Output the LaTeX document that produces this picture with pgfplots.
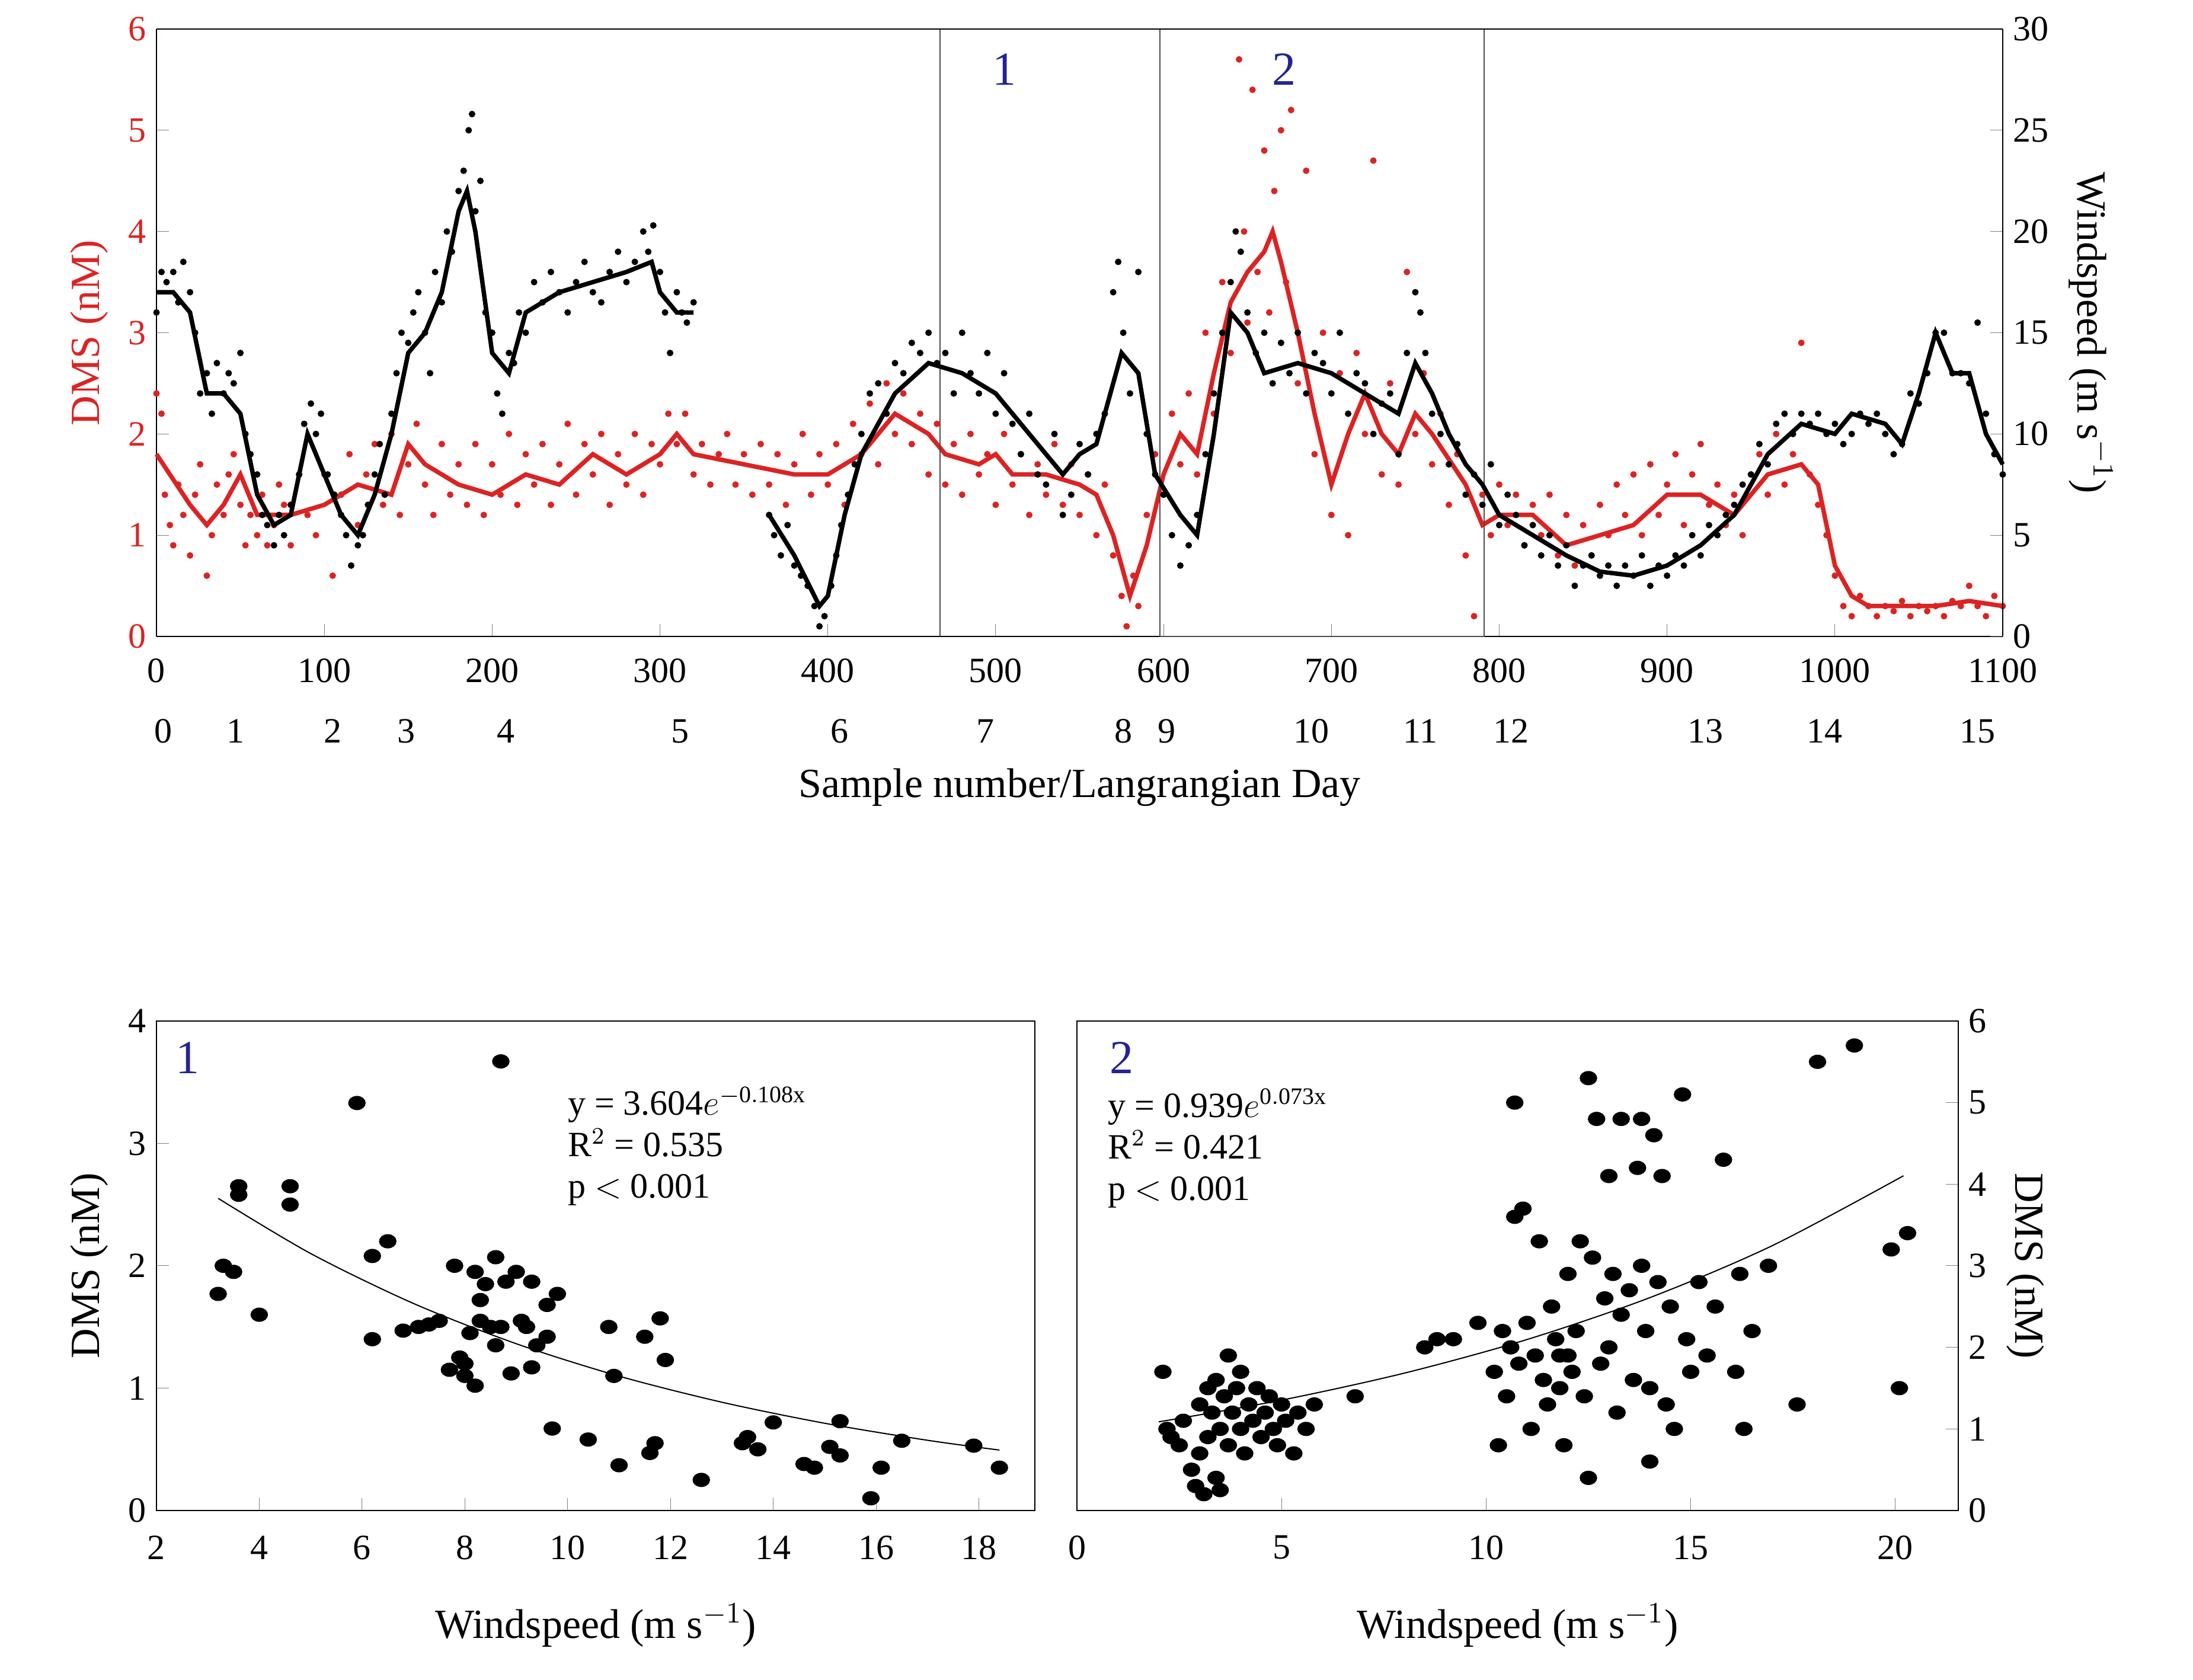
\documentclass[border=0pt]{standalone}
\usepackage{pgfplots}
\pgfplotsset{compat=1.18}
\usepackage{fontspec}
\setmainfont{Liberation Serif}
\definecolor{dmsred}{RGB}{220,35,35}
\definecolor{navy}{RGB}{35,35,150}
\newcommand{\dayl}[2]{\node[font=\fontsize{12}{12}\selectfont] at (axis cs:#1,0) [yshift=-32pt] {#2};}
\pgfplotsset{every axis/.append style={scale only axis, clip=false,
  tick label style={font=\fontsize{12}{12}\selectfont},
  label style={font=\fontsize{14}{14}\selectfont},
  /pgf/number format/assume math mode=true, /pgf/number format/1000 sep={}, tick align=inside}}
\begin{document}
\begin{tikzpicture}
\useasboundingbox (0,0) rectangle (740pt,567pt);
% ---------- TOP left axis (DMS)
\begin{axis}[at={(52.8pt,352.2pt)}, anchor=south west, width=623pt, height=205pt,
  xmin=0, xmax=1100, ymin=0, ymax=6, xtick={0,100,...,1100}, ytick={0,1,...,6},
  axis y line*=left, axis x line*=bottom, yticklabel style={color=dmsred},
  xticklabel style={yshift=-4pt},
  ylabel={DMS (nM)}, ylabel style={color=dmsred}, axis line style={black}]
\addplot[only marks, mark=*, mark size=0.9pt, dmsred] coordinates {
(0,2.4)(3,2.2)(5,1.4)(8,1.1)(10,0.9)(13,1.5)(16,1.2)(20,0.8)(23,1.4)(26,1.7)(30,0.6)(33,1.0)(36,1.5)(40,1.2)(43,1.6)(46,1.8)(50,1.3)(53,0.9)(56,1.2)(60,1.0)(63,1.4)(66,0.9)(70,1.1)(73,1.5)(76,1.3)(80,0.9)(85,1.6)(90,1.2)(95,1.0)(100,1.6)(105,0.6)(110,1.4)(115,1.8)(120,1.1)(125,1.6)(130,1.9)(135,1.3)(140,2.0)(145,1.2)(150,1.7)(155,2.1)(160,1.5)(165,1.2)(170,1.9)(175,1.4)(180,1.7)(185,1.3)(190,1.9)(195,1.2)(200,1.7)(205,1.4)(210,2.0)(215,1.3)(220,1.8)(225,1.5)(230,1.9)(235,1.3)(240,1.7)(245,2.1)(250,1.4)(255,1.9)(260,1.6)(265,2.0)(270,1.3)(275,1.8)(280,1.5)(285,2.0)(290,1.4)(295,1.9)(300,1.7)(305,2.2)(310,1.9)(315,2.2)(320,1.6)(325,1.9)(330,1.5)(335,1.8)(340,2.0)(345,1.5)(350,1.8)(355,1.4)(360,1.9)(365,1.5)(370,1.8)(375,1.3)(380,1.7)(385,2.0)(390,1.4)(395,1.8)(400,1.5)(405,1.9)(410,1.3)(415,2.1)(420,1.8)(425,2.3)(430,1.7)(435,2.5)(440,2.0)(445,2.4)(450,1.9)(455,2.2)(460,1.6)(465,2.1)(470,1.5)(475,1.9)(480,1.4)(485,2.0)(490,1.6)(495,1.8)(500,1.3)(505,2.0)(510,1.5)(515,1.8)(520,1.2)(525,1.7)(530,1.4)(535,1.9)(540,1.3)(545,1.7)(550,1.2)(555,1.6)(560,1.0)(565,1.5)(570,0.8)(575,0.4)(578,0.1)(582,0.6)(585,0.3)(590,1.2)(595,1.8)(600,1.4)(605,2.2)(610,1.7)(615,2.4)(620,1.6)(625,3.0)(630,2.2)(635,3.5)(640,2.8)(645,5.7)(648,4.0)(650,3.1)(653,5.4)(656,3.6)(660,4.8)(663,3.2)(666,4.4)(670,5.0)(673,3.5)(676,5.2)(680,2.5)(685,4.6)(690,1.8)(695,3.0)(700,1.2)(705,2.6)(710,1.0)(715,2.8)(720,2.0)(725,4.7)(730,1.6)(735,2.5)(740,1.5)(745,3.6)(750,2.0)(755,2.6)(760,1.7)(765,2.2)(770,1.3)(775,1.8)(780,0.8)(785,0.2)(790,1.4)(795,1.0)(800,1.5)(805,1.1)(810,1.4)(815,0.9)(820,1.3)(825,1.0)(830,1.4)(835,0.8)(840,1.2)(845,0.7)(850,1.1)(855,0.8)(860,1.3)(865,1.0)(870,1.5)(875,1.2)(880,1.6)(885,1.0)(890,1.7)(895,1.2)(900,1.5)(905,1.8)(910,1.1)(915,1.6)(920,1.9)(925,1.3)(930,1.5)(935,1.1)(940,1.4)(945,1.0)(950,1.6)(955,1.8)(960,1.4)(965,2.0)(970,1.5)(975,1.8)(980,2.9)(985,1.6)(990,1.3)(995,1.0)(1000,0.6)(1005,0.3)(1010,0.2)(1015,0.4)(1020,0.3)(1025,0.2)(1030,0.3)(1035,0.25)(1040,0.35)(1045,0.2)(1050,0.3)(1055,0.25)(1060,0.3)(1065,0.2)(1070,0.35)(1075,0.3)(1080,0.5)(1085,0.3)(1090,0.2)(1095,0.4)(1100,0.3)};
\addplot[dmsred, line width=1.5pt, no marks] coordinates {
(0,1.8)(20,1.3)(30,1.1)(40,1.3)(50,1.6)(60,1.2)(80,1.2)(100,1.3)(120,1.5)(140,1.4)(150,1.9)(160,1.7)(180,1.5)(200,1.4)(220,1.6)(240,1.5)(260,1.8)(280,1.6)(300,1.8)(310,2.0)(320,1.8)(350,1.7)(380,1.6)(400,1.6)(420,1.8)(440,2.2)(460,2.0)(470,1.8)(490,1.7)(500,1.8)(510,1.6)(530,1.6)(550,1.5)(560,1.4)(570,1.0)(580,0.4)(590,0.9)(600,1.6)(610,2.0)(620,1.8)(630,2.6)(640,3.3)(650,3.6)(660,3.8)(665,4.0)(670,3.7)(680,3.0)(690,2.2)(700,1.5)(710,2.0)(720,2.4)(730,2.0)(740,1.8)(750,2.2)(760,2.0)(780,1.5)(790,1.1)(800,1.2)(820,1.2)(840,0.9)(860,1.0)(880,1.1)(900,1.4)(920,1.4)(940,1.2)(960,1.6)(980,1.7)(990,1.5)(1000,0.7)(1010,0.4)(1020,0.3)(1040,0.3)(1060,0.3)(1080,0.35)(1100,0.3)};
\draw[black!70] (axis cs:467,0) -- (axis cs:467,6);
\draw[black!70] (axis cs:598,0) rectangle (axis cs:791,6);
\node[navy, font=\fontsize{16}{16}\selectfont] at (axis cs:505,5.6) {1};
\node[navy, font=\fontsize{16}{16}\selectfont] at (axis cs:672,5.6) {2};
\dayl{4}{0}\dayl{47}{1}\dayl{105}{2}\dayl{149}{3}\dayl{208}{4}\dayl{312}{5}\dayl{407}{6}\dayl{494}{7}
\dayl{576}{8}\dayl{602}{9}\dayl{688}{10}\dayl{753}{11}\dayl{807}{12}\dayl{923}{13}\dayl{994}{14}\dayl{1085}{15}
\node[font=\fontsize{14}{14}\selectfont] at (rel axis cs:0.5,0) [yshift=-51pt] {Sample number/Langrangian Day};
\end{axis}
% ---------- TOP right axis (windspeed)
\begin{axis}[at={(52.8pt,352.2pt)}, anchor=south west, width=623pt, height=205pt,
  xmin=0, xmax=1100, ymin=0, ymax=30, ytick={0,5,...,30},
  axis y line*=right, axis x line=none, ylabel={Windspeed (m s$^{-1}$)},
  ylabel style={rotate=180}, unbounded coords=jump]
\draw (rel axis cs:0,1) -- (rel axis cs:1,1);
\addplot[only marks, mark=*, mark size=0.9pt, black] coordinates {
(0,16)(3,18)(6,17.5)(10,18)(13,16.5)(16,18.5)(20,17)(23,15)(26,12)(30,13)(33,11)(36,13.5)(40,12)(43,13)(46,12.5)(50,14)(53,10)(56,9)(60,8)(63,6)(66,5.5)(70,4.5)(73,6)(76,5)(80,6.5)(85,8)(88,10.5)(92,11.5)(95,10)(98,11)(102,8)(106,7)(110,6)(113,5)(116,3.5)(120,4.5)(123,5)(126,6.5)(130,8)(133,9.5)(136,7)(140,11)(143,13)(146,15)(150,14.5)(153,16)(156,17)(160,15)(163,13)(166,18)(170,16.5)(173,20)(176,19)(180,22)(183,23)(186,25)(188,25.8)(190,21)(193,22.5)(196,16)(200,15)(203,12)(206,11)(210,14)(213,13.5)(216,16)(220,15)(225,17.5)(230,16.5)(235,18)(240,17)(245,16)(250,17.5)(255,18.5)(260,17)(265,16.5)(270,18)(275,19)(280,17.5)(285,18.5)(290,20)(293,19)(296,20.3)(300,18)(303,16)(306,14)(310,17)(313,16)(316,15.5)(320,16.5)(365,6)(368,5)(372,4)(376,5.5)(380,3.5)(384,3)(388,2.5)(392,1.5)(395,0.5)(398,1)(402,2.5)(405,4)(408,5.5)(412,7)(416,8.5)(420,10)(425,12)(430,12.5)(435,11)(440,13.5)(445,13)(450,14.5)(455,14)(460,15)(465,13.5)(470,14)(475,12)(480,15)(485,13)(490,12)(495,14)(500,11)(505,13)(510,10.5)(515,9)(520,11)(525,8)(530,7.5)(535,10)(540,6)(545,7)(550,9.5)(555,8)(560,10)(565,11)(570,17)(573,18.5)(576,15)(580,12)(585,18)(590,10)(595,8)(600,7)(605,5)(610,3.5)(615,4.5)(620,6)(625,9)(630,12)(635,15)(640,17.5)(643,20)(646,19)(650,16)(655,14)(660,15)(665,12.5)(670,14.5)(675,13)(680,15)(685,12)(690,14)(695,13.5)(700,12)(705,15)(710,11)(715,13)(720,12.5)(725,10)(730,11.5)(735,12)(740,9)(745,14)(750,17)(753,16)(756,14)(760,11)(765,10)(770,8.5)(775,9.5)(780,7)(785,8)(790,6.5)(795,8.5)(800,5.5)(805,7)(810,6)(815,4.5)(820,5.5)(825,4)(830,5)(835,3.5)(840,4.5)(845,2.5)(850,3.5)(855,4)(860,3)(865,3.5)(870,2.5)(875,3.5)(880,3)(885,4)(890,2.5)(895,3.5)(900,3)(905,4)(910,3.5)(915,5)(920,4)(925,5.5)(930,5)(935,6)(940,6.5)(945,7.5)(950,8)(955,9.5)(960,8.5)(965,10.5)(970,11)(975,10)(980,11)(985,10.5)(990,11)(995,10)(1000,10.5)(1005,9.5)(1010,10)(1015,11)(1020,10.5)(1025,11)(1030,10)(1035,9)(1040,9.5)(1045,12)(1050,11.5)(1055,13)(1060,15)(1065,15)(1070,13)(1075,13)(1080,12.5)(1085,15.5)(1090,11)(1095,9)(1100,8)};
\addplot[black, line width=1.5pt, no marks] coordinates {
(0,17)(10,17)(20,16)(30,12)(40,12)(50,11)(60,7)(70,5.5)(80,6)(90,10)(100,8)(110,6)(120,5)(130,7)(140,10)(150,14)(160,15)(170,17)(180,21)(185,22)(190,20)(200,14)(210,13)(220,16)(240,17)(260,17.5)(280,18)(295,18.5)(300,17)(310,16)(320,16)(342,nan)(365,6)(380,4)(395,1.5)(400,2)(410,6)(420,9)(440,12)(460,13.5)(480,13)(500,12)(520,10)(540,8)(550,9)(560,9.5)(575,14)(585,13)(595,8)(610,6)(620,5)(630,10)(640,16)(650,15)(660,13)(680,13.5)(700,13)(720,12)(740,11)(750,13.5)(760,12)(770,10)(780,8.5)(790,7.5)(800,6)(820,5)(840,4)(860,3.2)(880,3)(900,3.5)(920,4.5)(940,6)(960,9)(980,10.5)(1000,10)(1010,11)(1030,10.5)(1040,9.5)(1050,12)(1060,15)(1070,13)(1080,13)(1090,10)(1100,8.5)};
\end{axis}
% ---------- BOTTOM left
\begin{axis}[at={(52.8pt,57.2pt)}, anchor=south west, width=296.4pt, height=165.2pt,
  xmin=2, xmax=19.09, ymin=0, ymax=4, xtick={2,4,...,18}, ytick={0,1,...,4},
  xtick pos=bottom, ytick pos=left, ylabel={DMS (nM)}, xlabel={Windspeed (m s$^{-1}$)},
  xticklabel style={yshift=-5pt}, xlabel style={yshift=-8pt}]
\addplot[only marks, mark=*, mark size=2.2pt, black, mark options={xscale=1.25}] coordinates {
(3.2,1.77)(3.3,2.0)(3.5,1.95)(3.6,2.65)(3.6,2.58)(4.0,1.6)(4.6,2.65)(4.6,2.5)(5.9,3.33)(6.2,2.08)(6.2,1.4)(6.5,2.2)(6.8,1.47)(7.1,1.5)(7.3,1.52)(7.5,1.55)(7.7,1.15)(7.8,2.0)(7.9,1.25)(8.0,1.1)(8.0,1.2)(8.1,1.45)(8.2,1.02)(8.2,1.95)(8.3,1.55)(8.3,1.72)(8.4,1.85)(8.5,1.5)(8.6,1.35)(8.6,2.07)(8.7,3.67)(8.7,1.5)(8.8,1.87)(8.9,1.12)(9.0,1.95)(9.1,1.55)(9.2,1.5)(9.3,1.87)(9.3,1.17)(9.4,1.35)(9.6,1.68)(9.6,1.42)(9.7,0.67)(9.8,1.77)(10.4,0.58)(10.8,1.5)(10.9,1.1)(11.0,0.37)(11.5,1.42)(11.6,0.47)(11.7,0.55)(11.8,1.57)(11.9,1.23)(12.6,0.25)(13.4,0.55)(13.5,0.6)(13.7,0.5)(14.0,0.72)(14.6,0.38)(14.8,0.35)(15.1,0.52)(15.3,0.45)(15.3,0.73)(15.9,0.1)(16.1,0.35)(16.5,0.57)(17.9,0.53)(18.4,0.35)};
\addplot[black, thin, smooth, no marks] coordinates {(3.2,2.551)(5,2.100)(7,1.692)(9,1.363)(11,1.098)(13,0.885)(15,0.713)(17,0.574)(18.4,0.494)};
\node[navy, font=\fontsize{16}{16}\selectfont] at (axis cs:2.6,3.7) {1};
\node[anchor=north west, align=left, font=\fontsize{12}{14}\selectfont] at (axis cs:9.8,3.55) {y = 3.604$e^{\mathrm{-0.108x}}$\\R$^2$ = 0.535\\p $<$ 0.001};
\end{axis}
% ---------- BOTTOM right
\begin{axis}[at={(363.4pt,57.2pt)}, anchor=south west, width=297.4pt, height=165.2pt,
  xmin=0, xmax=21.54, ymin=0, ymax=6, xtick={0,5,...,20}, ytick={0,1,...,6},
  xtick pos=bottom, ytick pos=right, yticklabel pos=right, ylabel={DMS (nM)},
  ylabel style={rotate=180}, xlabel={Windspeed (m s$^{-1}$)},
  xticklabel style={yshift=-5pt}, xlabel style={yshift=-8pt}]
\addplot[only marks, mark=*, mark size=2.2pt, black, mark options={xscale=1.25}] coordinates {
(2.1,1.7)(2.2,1.0)(2.3,0.9)(2.5,0.8)(2.6,1.1)(2.8,0.5)(2.9,0.3)(3.0,1.3)(3.0,0.7)(3.1,0.2)(3.2,1.5)(3.2,0.9)(3.3,1.2)(3.4,0.4)(3.4,1.6)(3.5,1.0)(3.5,0.25)(3.6,1.4)(3.7,0.8)(3.7,1.9)(3.8,1.2)(3.9,1.5)(4.0,1.0)(4.0,1.7)(4.1,0.7)(4.2,1.3)(4.3,1.1)(4.4,1.5)(4.5,0.9)(4.6,1.2)(4.7,1.4)(4.8,1.0)(4.9,0.8)(5.0,1.3)(5.1,1.1)(5.3,0.7)(5.4,1.2)(5.6,1.0)(5.8,1.3)(6.8,1.4)(8.5,2.0)(8.8,2.1)(9.2,2.1)(9.8,2.3)(10.2,1.7)(10.3,0.8)(10.4,2.2)(10.5,1.4)(10.7,3.6)(10.7,5.0)(10.8,1.8)(10.9,3.7)(11.0,2.3)(11.1,1.0)(11.2,1.9)(11.3,3.3)(11.4,1.6)(11.5,1.3)(11.6,2.5)(11.7,2.1)(11.8,1.5)(11.9,0.8)(12.0,2.9)(12.1,1.7)(12.2,2.2)(12.3,3.3)(12.4,1.4)(12.5,5.3)(12.5,0.4)(12.6,3.1)(12.7,4.8)(12.8,1.8)(12.9,2.6)(13.0,2.0)(13.0,4.1)(13.1,2.9)(13.2,1.2)(13.3,4.8)(13.3,2.4)(13.5,2.7)(13.6,1.6)(13.7,4.2)(13.8,4.8)(13.8,3.0)(13.9,2.2)(14.0,1.5)(14.1,4.6)(14.2,2.8)(14.3,4.1)(14.4,1.3)(14.5,2.5)(14.6,1.0)(14.8,5.1)(14.9,2.1)(15.0,1.7)(15.2,2.8)(15.4,1.9)(15.6,2.5)(15.8,4.3)(16.1,1.7)(16.2,2.9)(16.3,1.0)(16.5,2.2)(16.9,3.0)(17.6,1.3)(18.1,5.5)(19.0,5.7)(19.9,3.2)(20.1,1.5)(20.3,3.4)(14.0,0.6)(12.0,1.9)(10.6,2.0)(11.8,1.9)};
\addplot[black, thin, smooth, no marks] coordinates {(2,1.087)(5,1.353)(8,1.684)(11,2.096)(14,2.609)(17,3.248)(20.2,4.103)};
\node[navy, font=\fontsize{16}{16}\selectfont] at (axis cs:1.1,5.55) {2};
\node[anchor=north west, align=left, font=\fontsize{12}{14}\selectfont] at (axis cs:0.5,5.3) {y = 0.939$e^{\mathrm{0.073x}}$\\R$^2$ = 0.421\\p $<$ 0.001};
\end{axis}
\end{tikzpicture}
\end{document}
